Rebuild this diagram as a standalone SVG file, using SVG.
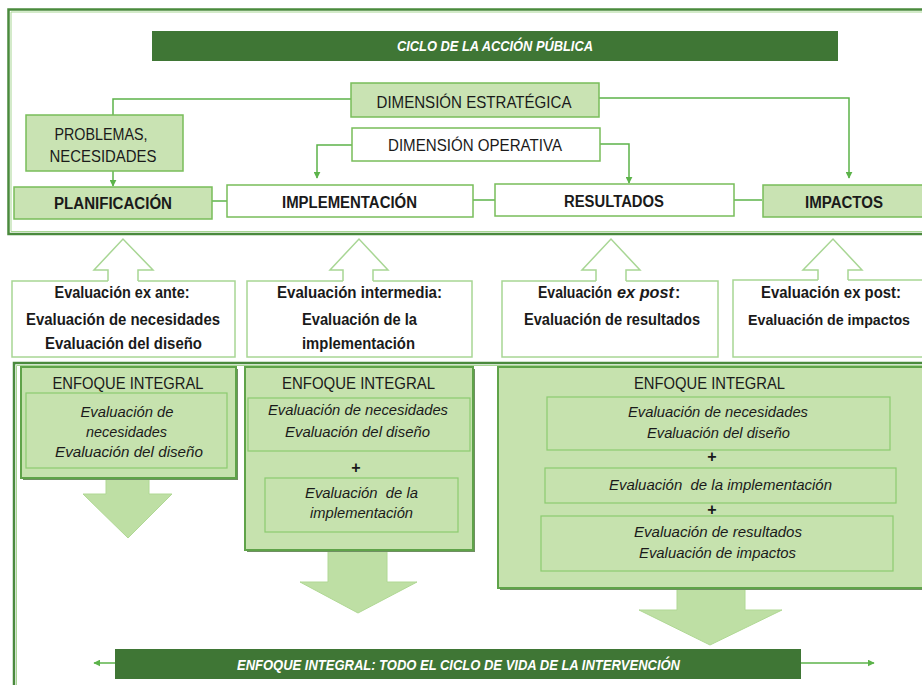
<svg xmlns="http://www.w3.org/2000/svg" width="922" height="685" viewBox="0 0 922 685">
<defs>
<marker id="ah" viewBox="0 0 10 10" refX="9" refY="5" markerWidth="7" markerHeight="7" markerUnits="userSpaceOnUse" orient="auto">
<path d="M0,0 L10,5 L0,10 Z" fill="#5cb34a"/>
</marker>
<style>
.t{font-family:"Liberation Sans",Arial,sans-serif;fill:#1a1a1a;text-anchor:middle}
.s{text-anchor:start}
.b{font-weight:bold}
.i{font-style:italic}
.w{fill:#ffffff;font-weight:bold;font-style:italic}
.lg{fill:#c9e3b3;stroke:#78bd5a;stroke-width:1.5}
.wh{fill:#ffffff;stroke:#78bd5a;stroke-width:1.5}
.ev{fill:#ffffff;stroke:#a8d694;stroke-width:1.5}
.big{fill:#c6e2ae;stroke:#5fa349;stroke-width:2}
.inner{fill:#c6e2ae;stroke:#8ccb6f;stroke-width:1.2}
.dark{fill:#3f7635}
.con{fill:none;stroke:#5cb34a;stroke-width:1.5}
.frame{fill:none;stroke:#4a8a3d;stroke-width:2.5}
.frame2{fill:none;stroke:#a8d694;stroke-width:1}
.darr{fill:#bedfa4;stroke:#b0d894;stroke-width:1}
.uarr{fill:none;stroke:#a8d694;stroke-width:1.5}
</style>
</defs>
<rect width="922" height="685" fill="#ffffff"/>

<g id="frames">
<path class="frame" d="M925,9.5 H8.5 V234 H925"/>
<path class="frame2" d="M925,12 H11 V231.5 H925"/>
<path class="frame" d="M14,686 V363 H925"/>
<path class="frame2" d="M16.5,686 V365.5 H925"/>
</g>

<g id="header">
<rect class="dark" x="152" y="31" width="686" height="30"/>
<text class="t w" x="495" y="51" font-size="15" textLength="196" lengthAdjust="spacingAndGlyphs">CICLO DE LA ACCIÓN PÚBLICA</text>
</g>

<g id="connectors">
<path class="con" d="M351,99 H113 V115"/>
<path class="con" d="M113,171 V186" marker-end="url(#ah)"/>
<path class="con" d="M352,145 H317 V178" marker-end="url(#ah)"/>
<path class="con" d="M600,144 H629 V183" marker-end="url(#ah)"/>
<path class="con" d="M599,98 H849 V178" marker-end="url(#ah)"/>
<path class="con" d="M212,201 H227"/>
<path class="con" d="M473,200 H495"/>
<path class="con" d="M734,200 H762"/>
<path class="con" d="M115,663 H94" marker-end="url(#ah)"/>
<path class="con" d="M801,663 H874" marker-end="url(#ah)"/>
</g>

<g id="dim-estrategica">
<rect class="lg" x="351" y="83" width="248" height="34"/>
<text class="t" x="474" y="107.5" font-size="16.5" textLength="195" lengthAdjust="spacingAndGlyphs">DIMENSIÓN ESTRATÉGICA</text>
</g>
<g id="dim-operativa">
<rect class="wh" x="352" y="128" width="248" height="33"/>
<text class="t" x="475" y="150.5" font-size="16.5" textLength="174" lengthAdjust="spacingAndGlyphs">DIMENSIÓN OPERATIVA</text>
</g>
<g id="problemas">
<rect class="lg" x="26" y="115" width="157" height="56"/>
<text class="t" x="101" y="140" font-size="16.5" textLength="93" lengthAdjust="spacingAndGlyphs">PROBLEMAS,</text>
<text class="t" x="103" y="161.5" font-size="16.5" textLength="107" lengthAdjust="spacingAndGlyphs">NECESIDADES</text>
</g>
<g id="planificacion">
<rect class="lg" x="14" y="187" width="198" height="32"/>
<text class="t b" x="113" y="209" font-size="16" textLength="118" lengthAdjust="spacingAndGlyphs">PLANIFICACIÓN</text>
</g>
<g id="implementacion">
<rect class="wh" x="227" y="185" width="246" height="32"/>
<text class="t b" x="349.5" y="208" font-size="16" textLength="135" lengthAdjust="spacingAndGlyphs">IMPLEMENTACIÓN</text>
</g>
<g id="resultados">
<rect class="wh" x="495" y="184" width="239" height="32"/>
<text class="t b" x="614" y="207" font-size="16" textLength="100" lengthAdjust="spacingAndGlyphs">RESULTADOS</text>
</g>
<g id="impactos">
<rect class="lg" x="763" y="185" width="165" height="32"/>
<text class="t b" x="844" y="208" font-size="16" textLength="78" lengthAdjust="spacingAndGlyphs">IMPACTOS</text>
</g>

<g id="eval-ex-ante">
<rect class="ev" x="12" y="281" width="223" height="76"/>
<path d="M108,282 V270 H94 L123,239 L153,270 H138 V282 Z" fill="#ffffff"/>
<path class="uarr" d="M108,281 V270 H94 L123,239 L153,270 H138 V281"/>
<text class="t b" x="122" y="298" font-size="16" textLength="135" lengthAdjust="spacingAndGlyphs">Evaluación ex ante:</text>
<text class="t b" x="123" y="325" font-size="16" textLength="194" lengthAdjust="spacingAndGlyphs">Evaluación de necesidades</text>
<text class="t b" x="123.5" y="349" font-size="16" textLength="157" lengthAdjust="spacingAndGlyphs">Evaluación del diseño</text>
</g>
<g id="eval-intermedia">
<rect class="ev" x="247" y="281" width="225" height="76"/>
<path d="M343,282 V270 H330 L359,239 L388,270 H373 V282 Z" fill="#ffffff"/>
<path class="uarr" d="M343,281 V270 H330 L359,239 L388,270 H373 V281"/>
<text class="t b" x="359.5" y="298" font-size="16" textLength="165" lengthAdjust="spacingAndGlyphs">Evaluación intermedia:</text>
<text class="t b" x="359.5" y="325" font-size="16" textLength="115" lengthAdjust="spacingAndGlyphs">Evaluación de la</text>
<text class="t b" x="358.5" y="349" font-size="16" textLength="113" lengthAdjust="spacingAndGlyphs">implementación</text>
</g>
<g id="eval-ex-post-resultados">
<rect class="ev" x="502" y="281" width="216" height="76"/>
<path d="M596,282 V270 H582 L611,239 L640,270 H626 V282 Z" fill="#ffffff"/>
<path class="uarr" d="M596,281 V270 H582 L611,239 L640,270 H626 V281"/>
<text class="t s b" x="538" y="298" font-size="16"><tspan textLength="74" lengthAdjust="spacingAndGlyphs">Evaluación</tspan><tspan x="617" class="i" textLength="57" lengthAdjust="spacingAndGlyphs">ex post</tspan><tspan x="675">:</tspan></text>
<text class="t b" x="612" y="325" font-size="16" textLength="176" lengthAdjust="spacingAndGlyphs">Evaluación de resultados</text>
</g>
<g id="eval-ex-post-impactos">
<rect class="ev" x="733" y="280" width="195" height="77"/>
<path d="M818,281 V270 H803 L833,239 L862,270 H848 V281 Z" fill="#ffffff"/>
<path class="uarr" d="M818,280 V270 H803 L833,239 L862,270 H848 V280"/>
<text class="t b" x="831" y="298" font-size="16" textLength="140" lengthAdjust="spacingAndGlyphs">Evaluación ex post:</text>
<text class="t b" x="829" y="325" font-size="15" textLength="162" lengthAdjust="spacingAndGlyphs">Evaluación de impactos</text>
</g>

<g id="enfoque-a">
<path class="darr" d="M106,478 V494 H83 L128,538 L172,494 H149 V478 Z"/>
<rect x="23" y="369" width="215" height="111" fill="#6f8f62"/>
<rect class="big" x="21" y="367" width="215" height="111"/>
<text class="t" x="128" y="388.5" font-size="16.5" textLength="151" lengthAdjust="spacingAndGlyphs">ENFOQUE INTEGRAL</text>
<rect class="inner" x="26" y="393" width="201" height="75"/>
<text class="t i" x="127" y="417" font-size="15" textLength="93" lengthAdjust="spacingAndGlyphs">Evaluación de</text>
<text class="t i" x="126.5" y="437" font-size="15" textLength="81" lengthAdjust="spacingAndGlyphs">necesidades</text>
<text class="t i" x="129" y="457" font-size="15" textLength="148" lengthAdjust="spacingAndGlyphs">Evaluación del diseño</text>
</g>
<g id="enfoque-b">
<path class="darr" d="M328,550 V582 H300 L358,613 L417,582 H387 V550 Z"/>
<rect x="247" y="369" width="228" height="183" fill="#6f8f62"/>
<rect class="big" x="245" y="367" width="228" height="183"/>
<text class="t" x="358.5" y="388.5" font-size="16.5" textLength="153" lengthAdjust="spacingAndGlyphs">ENFOQUE INTEGRAL</text>
<rect class="inner" x="248" y="398" width="222" height="53"/>
<text class="t i" x="358" y="415" font-size="15" textLength="180" lengthAdjust="spacingAndGlyphs">Evaluación de necesidades</text>
<text class="t i" x="357.5" y="437" font-size="15" textLength="145" lengthAdjust="spacingAndGlyphs">Evaluación del diseño</text>
<text class="t b" x="356" y="473" font-size="16">+</text>
<rect class="inner" x="265" y="478" width="193" height="54"/>
<text class="t i" x="361.5" y="498" font-size="15" textLength="113" lengthAdjust="spacingAndGlyphs" xml:space="preserve">Evaluación  de la</text>
<text class="t i" x="361.5" y="518" font-size="15" textLength="103" lengthAdjust="spacingAndGlyphs">implementación</text>
</g>
<g id="enfoque-c">
<path class="darr" d="M677,588 V610 H639 L710,645 L782,610 H745 V588 Z"/>
<rect x="500" y="369" width="430" height="221" fill="#6f8f62"/>
<rect class="big" x="498" y="367" width="430" height="221"/>
<text class="t" x="709.5" y="388.5" font-size="16.5" textLength="151" lengthAdjust="spacingAndGlyphs">ENFOQUE INTEGRAL</text>
<rect class="inner" x="547" y="397" width="343" height="53"/>
<text class="t i" x="718" y="417" font-size="15" textLength="180" lengthAdjust="spacingAndGlyphs">Evaluación de necesidades</text>
<text class="t i" x="718.5" y="438" font-size="15" textLength="143" lengthAdjust="spacingAndGlyphs">Evaluación del diseño</text>
<text class="t b" x="712" y="462" font-size="16">+</text>
<rect class="inner" x="545" y="468" width="351" height="35"/>
<text class="t i" x="720.5" y="490" font-size="15" textLength="223" lengthAdjust="spacingAndGlyphs" xml:space="preserve">Evaluación  de la implementación</text>
<text class="t b" x="712" y="515" font-size="16">+</text>
<rect class="inner" x="541" y="516" width="352" height="55"/>
<text class="t i" x="718" y="537" font-size="15" textLength="168" lengthAdjust="spacingAndGlyphs">Evaluación de resultados</text>
<text class="t i" x="717.5" y="558" font-size="15" textLength="157" lengthAdjust="spacingAndGlyphs">Evaluación de impactos</text>
</g>

<g id="footer">
<rect class="dark" x="115" y="649" width="686" height="30"/>
<text class="t w" x="458.5" y="669.5" font-size="15" textLength="443" lengthAdjust="spacingAndGlyphs">ENFOQUE INTEGRAL: TODO EL CICLO DE VIDA DE LA INTERVENCIÓN</text>
</g>
</svg>
